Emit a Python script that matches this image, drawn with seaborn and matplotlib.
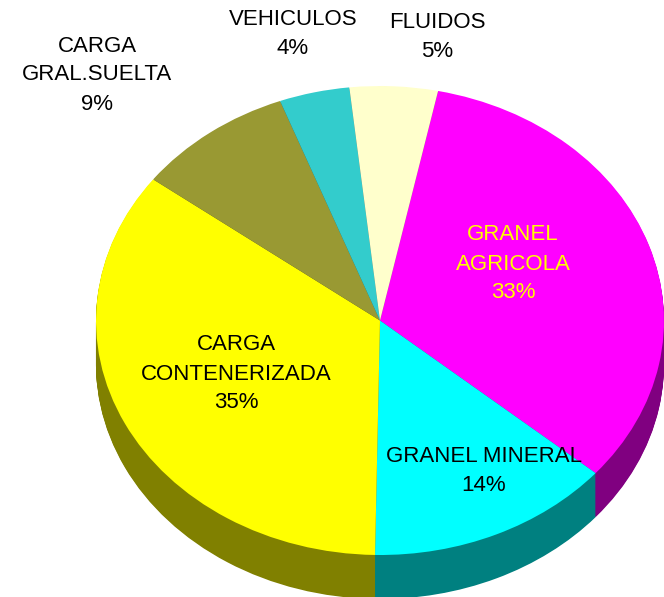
import matplotlib
matplotlib.use("Agg")
import matplotlib.pyplot as plt
import seaborn as sns
import numpy as np

# ---- data ----
categories = ["GRANEL\nAGRICOLA", "GRANEL MINERAL", "CARGA\nCONTENERIZADA",
              "CARGA\nGRAL.SUELTA", "VEHICULOS", "FLUIDOS"]
shares = [33, 14, 35, 9, 4, 5]
top_colors = ["#FF00FF", "#00FFFF", "#FFFF00", "#999933", "#33CCCC", "#FFFFCC"]
side_colors = ["#800080", "#008080", "#808000", "#4D4D1A", "#1A6666", "#808066"]
label_colors = ["#FFFF00", "black", "black", "black", "black", "black"]

sns.set_style("white")
plt.rcParams['font.family'] = ['Liberation Sans', 'DejaVu Sans']

W, H = 664, 597
fig = plt.figure(figsize=(W / 100, H / 100), dpi=100)
ax = fig.add_axes([0, 0, 1, 1])

cx, cy, rx, ry = 380, 320.5, 284, 234.5
depth = 44 / ry
start = 78.2

for t in np.linspace(depth, 0.004, 50):
    ax.pie(shares, colors=side_colors, startangle=start, counterclock=False,
           center=(0, -t), wedgeprops=dict(linewidth=0, antialiased=True))
ax.pie(shares, colors=top_colors, startangle=start, counterclock=False,
       wedgeprops=dict(linewidth=0))

ax.set_aspect('auto')
ax.set_xlim(-cx / rx, (W - cx) / rx)
ax.set_ylim(-(H - cy) / ry, cy / ry)
ax.axis('off')

# label positions in pixel (center of text block)
label_pos = [(513, 264), (484, 471), (236, 374), (97, 75), (293, 34), (437, 37)]
for cat, s, col, (px, py) in zip(categories, shares, label_colors, label_pos):
    fig.text(px / W, 1 - py / H, f"{cat}\n{s}%", ha='center', va='center',
             fontsize=16, color=col, linespacing=1.5)

fig.savefig("out.png", dpi=100)
